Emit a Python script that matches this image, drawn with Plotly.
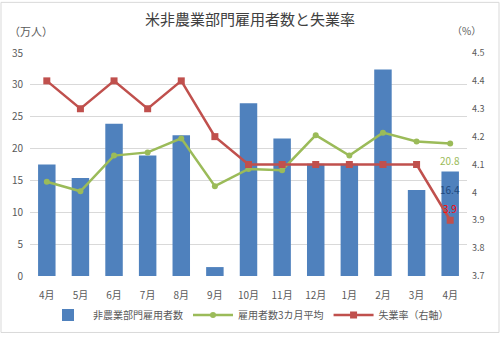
import plotly.graph_objects as go

# 米非農業部門雇用者数（万人）、3カ月平均、失業率（%）
months = ["4月", "5月", "6月", "7月", "8月", "9月", "10月", "11月", "12月", "1月", "2月", "3月", "4月"]
payrolls = [17.5, 15.4, 23.9, 18.9, 22.1, 1.4, 27.1, 21.6, 17.6, 17.6, 32.4, 13.5, 16.4]
avg3m = [14.8, 13.3, 18.9, 19.4, 21.6, 14.1, 16.8, 16.6, 22.1, 18.9, 22.5, 21.1, 20.8]
unemp = [4.4, 4.3, 4.4, 4.3, 4.4, 4.2, 4.1, 4.1, 4.1, 4.1, 4.1, 4.1, 3.9]

left_ticks = [0, 5, 10, 15, 20, 25, 30, 35]
right_ticks = [3.7, 3.8, 3.9, 4.0, 4.1, 4.2, 4.3, 4.4, 4.5]
right_labels = ["3.7", "3.8", "3.9", "4", "4.1", "4.2", "4.3", "4.4", "4.5"]

BLUE = "#4F81BD"
GREEN = "#9BBB59"
RED = "#C0504D"
GRAY = "#595959"
FONT = "Noto Sans CJK JP"

x = list(range(len(months)))

fig = go.Figure()
fig.add_trace(go.Bar(x=x, y=payrolls, name="非農業部門雇用者数",
                     marker=dict(color=BLUE, line=dict(width=0)), width=0.52))
fig.add_trace(go.Scatter(x=x, y=avg3m, name="雇用者数3カ月平均", mode="lines+markers",
                         line=dict(color=GREEN, width=2.5),
                         marker=dict(symbol="circle", size=6, color=GREEN)))
fig.add_trace(go.Scatter(x=x, y=unemp, name="失業率（右軸）", mode="lines+markers", yaxis="y2",
                         line=dict(color=RED, width=2.5),
                         marker=dict(symbol="square", size=7, color=RED)))

plot_h = 282 - 53
plot_w = 467 - 30
last = len(months) - 1
annotations = [
    dict(x=last, y=avg3m[last], yref="y", text=f"{avg3m[last]}", showarrow=False,
         yshift=-17, font=dict(color=GREEN, size=10, family=FONT)),
    dict(x=last, y=payrolls[last], yref="y", text=f"{payrolls[last]}", showarrow=False,
         yshift=-18, font=dict(color="#1F497D", size=10, family=FONT)),
    dict(x=last, y=unemp[last], yref="y2", text=f"{unemp[last]}", showarrow=False,
         yshift=12, font=dict(color="#FF0000", size=10, family=FONT)),
    # unit captions above the two value axes
    dict(x=(7 - 30) / plot_w, y=(282 - 30) / plot_h, xref="paper", yref="paper",
         xanchor="left", yanchor="middle", text="（万人）", showarrow=False,
         font=dict(color=GRAY, size=11, family=FONT)),
    dict(x=(450 - 30) / plot_w, y=(282 - 30) / plot_h, xref="paper", yref="paper",
         xanchor="left", yanchor="middle", text="（%）", showarrow=False,
         font=dict(color=GRAY, size=10, family=FONT)),
]

fig.update_layout(
    width=500, height=341,
    margin=dict(l=30, r=33, t=53, b=59),
    paper_bgcolor="white", plot_bgcolor="white",
    font=dict(family=FONT, color=GRAY, size=10),
    title=dict(text="米非農業部門雇用者数と失業率", x=0.5, xanchor="center",
               y=1 - 20 / 341, yanchor="middle",
               font=dict(size=15, color="#404040", family=FONT)),
    xaxis=dict(tickmode="array", tickvals=x, ticktext=months, range=[-0.5, last + 0.5],
               showgrid=False, showline=False, ticks="", ticklabelstandoff=12,
               tickfont=dict(size=10, color=GRAY)),
    yaxis=dict(range=[0, 35], tickvals=left_ticks, showgrid=True, gridcolor="#D9D9D9",
               gridwidth=1, zeroline=False, showline=False, ticks="",
               ticklabelstandoff=6, tickfont=dict(size=10, color=GRAY)),
    yaxis2=dict(range=[3.7, 4.5], tickvals=right_ticks, ticktext=right_labels,
                overlaying="y", side="right", showgrid=False, zeroline=False,
                showline=False, ticks="", ticklabelstandoff=4,
                tickfont=dict(size=9, color=GRAY)),
    legend=dict(orientation="h", x=0.5, xanchor="center", y=(282 - 322) / plot_h,
                yanchor="middle", font=dict(size=10, color=GRAY, family=FONT),
                traceorder="normal", itemwidth=40),
    bargap=0.48,
    annotations=annotations,
    shapes=[dict(type="rect", xref="paper", yref="paper",
                 x0=(1 - 30) / plot_w, x1=(499 - 30) / plot_w,
                 y0=(282 - 340) / plot_h, y1=(282 - 1) / plot_h,
                 line=dict(color="#D9D9D9", width=1), fillcolor="rgba(0,0,0,0)")],
)

fig.write_html("out.html")
